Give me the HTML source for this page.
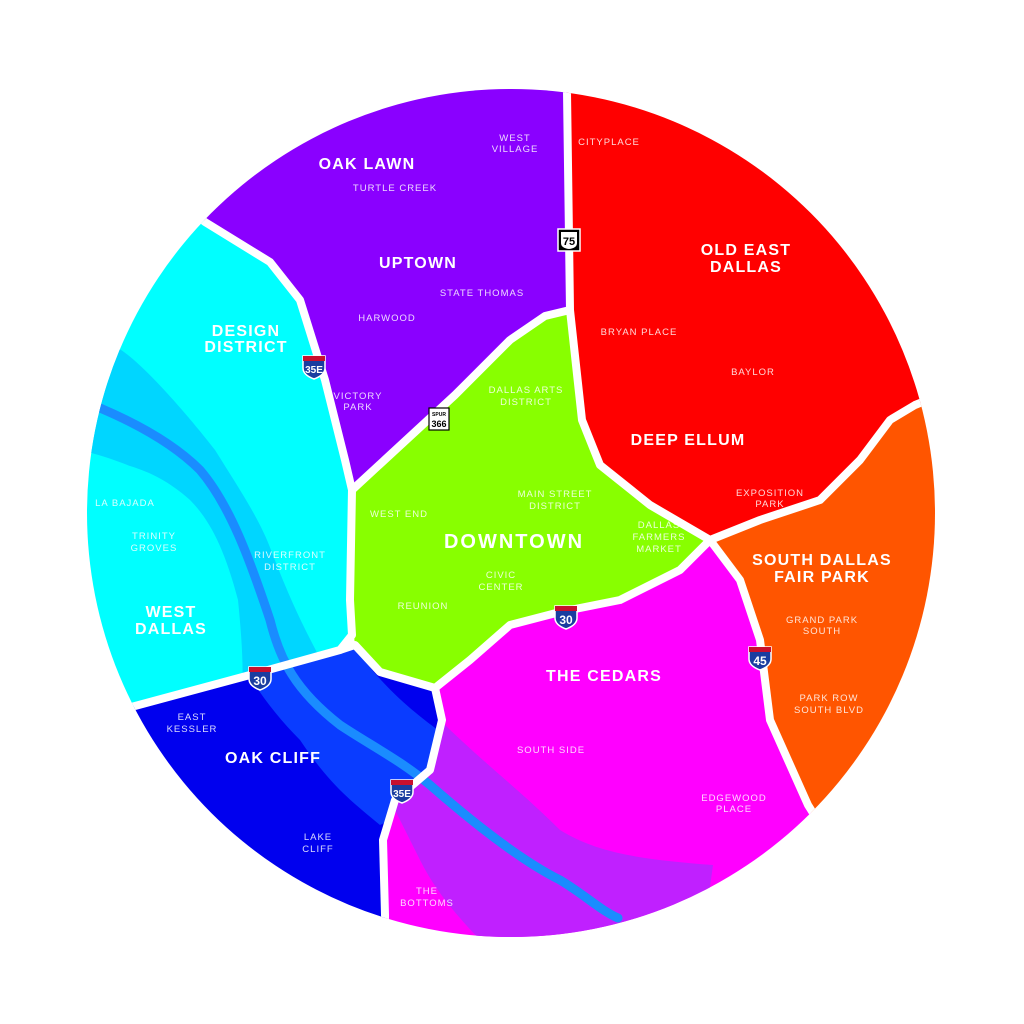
<!DOCTYPE html>
<html><head><meta charset="utf-8"><style>
html,body{margin:0;padding:0;background:#fff;}
svg{display:block}
text{font-family:"Liberation Sans",sans-serif;fill:#fff;text-anchor:middle;}
.M{font-weight:bold;font-size:16px;letter-spacing:1.2px;}
.s{font-size:9.5px;letter-spacing:1px;fill:rgba(255,255,255,0.85);}
</style></head><body>
<svg width="1024" height="1024" viewBox="0 0 1024 1024">
<defs>
<clipPath id="circ"><circle cx="511" cy="513" r="424"/></clipPath>
<clipPath id="cC"><polygon points="0,0 205,222 270,262 300,300 325,380 345,460 352,490 350,600 352,635 340,650 250,675 135,706 0,740"/></clipPath>
<clipPath id="cB"><polygon points="0,740 135,706 250,675 340,650 355,645 380,672 435,688 442,720 430,770 395,800 383,840 385,915 380,1024 0,1024"/></clipPath>
<clipPath id="cM"><polygon points="435,688 470,660 510,625 560,612 620,600 680,570 710,540 740,580 760,640 770,720 808,805 900,1024 380,1024 385,915 383,840 395,800 430,770 442,720"/></clipPath>
</defs>
<g clip-path="url(#circ)">
<polygon fill="#8a00ff" points="0,0 567,0 567,92 570,310 545,316 510,340 455,395 352,490 345,460 325,380 300,300 270,262 205,222"/>
<polygon fill="#ff0000" points="567,0 1024,0 1024,380 915,405 890,420 860,460 820,500 760,520 710,540 650,505 600,465 582,420 570,310 567,92"/>
<polygon fill="#ff5500" points="710,540 760,520 820,500 860,460 890,420 915,405 1024,380 1024,1024 900,1024 808,805 770,720 760,640 740,580"/>
<polygon fill="#88ff00" points="352,490 455,395 510,340 545,316 570,310 582,420 600,465 650,505 710,540 680,570 620,600 560,612 510,625 470,660 435,688 380,672 355,645 350,600"/>
<polygon fill="#00ffff" points="0,0 205,222 270,262 300,300 325,380 345,460 352,490 350,600 352,635 340,650 250,675 135,706 0,740"/>
<polygon fill="#0000ee" points="0,740 135,706 250,675 340,650 355,645 380,672 435,688 442,720 430,770 395,800 383,840 385,915 380,1024 0,1024"/>
<polygon fill="#ff00ff" points="435,688 470,660 510,625 560,612 620,600 680,570 710,540 740,580 760,640 770,720 808,805 900,1024 380,1024 385,915 383,840 395,800 430,770 442,720"/>
<g clip-path="url(#cC)"><path fill="#00d6ff" d="M60,330 L121,350 C140,362 180,405 215,450 C240,490 260,520 271,550 C290,600 305,630 321,660 L360,660 L240,710 C245,683 242,640 238,600 C225,550 210,520 190,500 C170,482 150,472 130,466 C110,458 90,452 60,445Z"/></g>
<g clip-path="url(#cB)"><path fill="#0a3cff" d="M228,640 L350,640 C370,670 395,700 445,735 L430,800 L380,825 C350,800 330,785 300,740 C270,710 250,680 228,640Z"/></g>
<g clip-path="url(#cM)"><path fill="#c020ff" d="M440,720 C480,760 520,790 560,830 C600,855 650,860 713,865 L700,960 L500,960 C470,930 440,900 420,860 L395,810Z"/></g>
<path d="M100,408 C140,425 175,445 200,470 C230,505 250,560 270,620 C280,660 295,690 340,725 C370,745 400,760 430,785 C470,820 520,860 560,880 C585,895 600,910 618,918" fill="none" stroke="#1a8cff" stroke-width="9" stroke-linecap="round"/>
<g fill="none" stroke="#fff" stroke-width="8" stroke-linejoin="round">
<polyline points="567,80 567,92 570,310 582,420 600,465 650,505 710,540 760,520 820,500 860,460 890,420 915,405 940,395"/>
<polyline points="190,210 205,222 270,262 300,300 325,380 345,460 352,490 350,600 352,635 340,650 250,675 135,706 100,715"/>
<polyline points="352,490 455,395 510,340 545,316 570,310"/>
<polyline points="340,650 355,645 380,672 435,688 470,660 510,625 560,612 620,600 680,570 710,540 740,580 760,640 770,720 808,805 830,840"/>
<polyline points="435,688 442,720 430,770 395,800 383,840 385,915 385,950"/>
</g>
</g>
<g font-family="Liberation Sans" font-weight="bold">
<g transform="translate(314,366)"><path d="M-11,-10 L11,-10 L11,2 Q11,9 0,13 Q-11,9 -11,2Z" fill="#1a3da0" stroke="#fff" stroke-width="1.5"/><rect x="-11" y="-10" width="22" height="5" fill="#c8102e"/><text y="7" style="font-size:10px;font-weight:bold">35E</text></g>
<g transform="translate(402,790)"><path d="M-11,-10 L11,-10 L11,2 Q11,9 0,13 Q-11,9 -11,2Z" fill="#1a3da0" stroke="#fff" stroke-width="1.5"/><rect x="-11" y="-10" width="22" height="5" fill="#c8102e"/><text y="7" style="font-size:10px;font-weight:bold">35E</text></g>
<g transform="translate(566,616)"><path d="M-11,-10 L11,-10 L11,2 Q11,9 0,13 Q-11,9 -11,2Z" fill="#1a3da0" stroke="#fff" stroke-width="1.5"/><rect x="-11" y="-10" width="22" height="5" fill="#c8102e"/><text y="8" style="font-size:12px;font-weight:bold">30</text></g>
<g transform="translate(260,677)"><path d="M-11,-10 L11,-10 L11,2 Q11,9 0,13 Q-11,9 -11,2Z" fill="#1a3da0" stroke="#fff" stroke-width="1.5"/><rect x="-11" y="-10" width="22" height="5" fill="#c8102e"/><text y="8" style="font-size:12px;font-weight:bold">30</text></g>
<g transform="translate(760,657)"><path d="M-11,-10 L11,-10 L11,2 Q11,9 0,13 Q-11,9 -11,2Z" fill="#1a3da0" stroke="#fff" stroke-width="1.5"/><rect x="-11" y="-10" width="22" height="5" fill="#c8102e"/><text y="8" style="font-size:12px;font-weight:bold">45</text></g>
<g transform="translate(569,240)"><rect x="-11" y="-11" width="22" height="22" fill="#000" stroke="#fff" stroke-width="1.5"/><path d="M-8,-8 L8,-8 L8,3 Q8,8 0,9 Q-8,8 -8,3Z" fill="#fff"/><text y="5" style="font-size:11px;font-weight:bold;fill:#000">75</text></g>
<g transform="translate(439,419)"><rect x="-10" y="-11" width="20" height="22" fill="#fff" stroke="#000" stroke-width="1.2"/><text y="-3" style="font-size:5px;fill:#000">SPUR</text><text y="8" style="font-size:9px;font-weight:bold;fill:#000">366</text></g>
</g>
<text class="M" x="367" y="169">OAK LAWN</text>
<text class="s" x="395" y="191">TURTLE CREEK</text>
<text class="s" x="515" y="141">WEST</text><text class="s" x="515" y="152">VILLAGE</text>
<text class="M" x="418" y="268">UPTOWN</text>
<text class="s" x="482" y="296">STATE THOMAS</text>
<text class="s" x="387" y="321">HARWOOD</text>
<text class="s" x="358" y="399">VICTORY</text><text class="s" x="358" y="410">PARK</text>
<text class="M" x="246" y="336">DESIGN</text><text class="M" x="246" y="352">DISTRICT</text>
<text class="s" x="609" y="145">CITYPLACE</text>
<text class="M" x="746" y="255">OLD EAST</text><text class="M" x="746" y="272">DALLAS</text>
<text class="s" x="639" y="335">BRYAN PLACE</text>
<text class="s" x="753" y="375">BAYLOR</text>
<text class="M" x="688" y="445">DEEP ELLUM</text>
<text class="s" x="770" y="496">EXPOSITION</text><text class="s" x="770" y="507">PARK</text>
<text class="s" x="526" y="393">DALLAS ARTS</text><text class="s" x="526" y="405">DISTRICT</text>
<text class="s" x="555" y="497">MAIN STREET</text><text class="s" x="555" y="509">DISTRICT</text>
<text class="s" x="399" y="517">WEST END</text>
<text class="M" x="514" y="548" style="font-size:20px;letter-spacing:2px">DOWNTOWN</text>
<text class="s" x="659" y="528">DALLAS</text><text class="s" x="659" y="540">FARMERS</text><text class="s" x="659" y="552">MARKET</text>
<text class="s" x="501" y="578">CIVIC</text><text class="s" x="501" y="590">CENTER</text>
<text class="s" x="423" y="609">REUNION</text>
<text class="s" x="125" y="506">LA BAJADA</text>
<text class="s" x="154" y="539">TRINITY</text><text class="s" x="154" y="551">GROVES</text>
<text class="s" x="290" y="558">RIVERFRONT</text><text class="s" x="290" y="570">DISTRICT</text>
<text class="M" x="171" y="617">WEST</text><text class="M" x="171" y="634">DALLAS</text>
<text class="M" x="822" y="565">SOUTH DALLAS</text><text class="M" x="822" y="582">FAIR PARK</text>
<text class="s" x="822" y="623">GRAND PARK</text><text class="s" x="822" y="634">SOUTH</text>
<text class="s" x="829" y="701">PARK ROW</text><text class="s" x="829" y="713">SOUTH BLVD</text>
<text class="M" x="604" y="681">THE CEDARS</text>
<text class="s" x="192" y="720">EAST</text><text class="s" x="192" y="732">KESSLER</text>
<text class="M" x="273" y="763">OAK CLIFF</text>
<text class="s" x="551" y="753">SOUTH SIDE</text>
<text class="s" x="734" y="801">EDGEWOOD</text><text class="s" x="734" y="812">PLACE</text>
<text class="s" x="318" y="840">LAKE</text><text class="s" x="318" y="852">CLIFF</text>
<text class="s" x="427" y="894">THE</text><text class="s" x="427" y="906">BOTTOMS</text>
</svg>
</body></html>
